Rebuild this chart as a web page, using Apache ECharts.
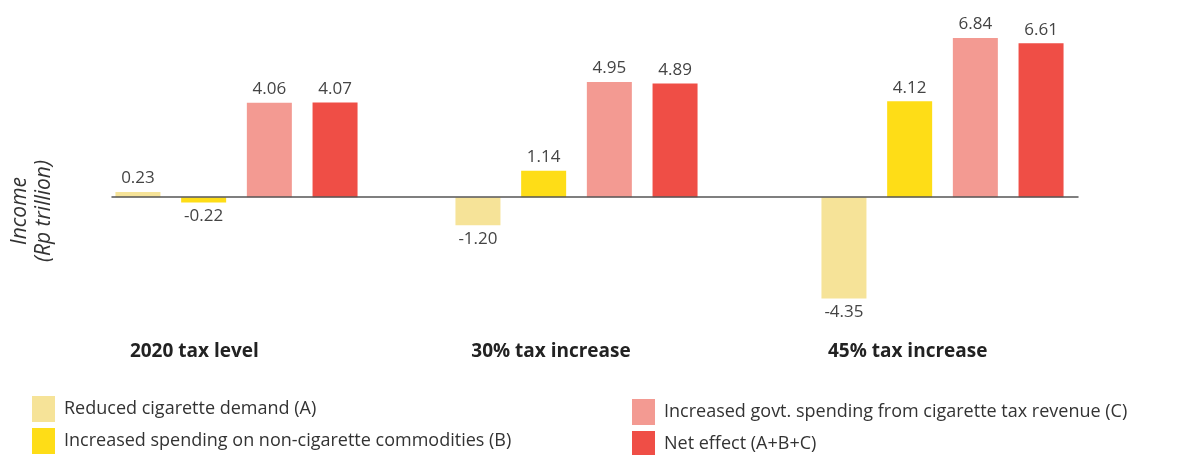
<!DOCTYPE html>
<html>
<head>
<meta charset="utf-8">
<title>Income effect of cigarette tax scenarios</title>
<script src="https://cdn.jsdelivr.net/npm/echarts@6/dist/echarts.min.js"></script>
<style>
  html, body { margin: 0; padding: 0; background: #ffffff; }
  #chart { width: 1199px; height: 455px; }
</style>
</head>
<body>
<div id="chart"></div>
<script>
// Scenarios and income effects (Rp trillion)
const categories = ['2020 tax level', '30% tax increase', '45% tax increase'];
const seriesNames = [
  'Reduced cigarette demand (A)',
  'Increased spending on non-cigarette commodities (B)',
  'Increased govt. spending from cigarette tax revenue (C)',
  'Net effect (A+B+C)'
];
const reducedDemand  = [0.23, -1.20, -4.35];
const nonCigSpending = [-0.22, 1.14, 4.12];
const govtSpending   = [4.06, 4.95, 6.84];
const netEffect      = [4.07, 4.89, 6.61];
const seriesValues = [reducedDemand, nonCigSpending, govtSpending, netEffect];
const seriesColors = ['#F6E398', '#FEDD17', '#F39A92', '#EF4E46'];

const FONT = "'Open Sans', 'Noto Sans', sans-serif";

// one grid per scenario so each bar group sits in its own band
const barGrids = [
  { left: 98,  width: 277, top: 11, height: 326 },
  { left: 400, width: 353, top: 11, height: 326 },
  { left: 800, width: 285, top: 11, height: 326 }
];

const grid = barGrids.slice();
// grid 3: carries the zero baseline and the y-axis title
grid.push({ left: 98, right: 121, top: 85, height: 252 });
// grid 4: carries the scenario labels
grid.push({ left: 16, right: 113, top: 300, height: 30 });

const xAxis = [];
const yAxis = [];
barGrids.forEach((g, i) => {
  xAxis.push({ type: 'category', gridIndex: i, data: [categories[i]], show: false });
  yAxis.push({ type: 'value', gridIndex: i, min: -6, max: 8, show: false });
});
xAxis.push({
  type: 'category', gridIndex: 3, data: [''], z: 5,
  axisLine: { show: true, onZero: true, lineStyle: { color: '#555', width: 1.5 } },
  axisTick: { show: false }, axisLabel: { show: false }, splitLine: { show: false }
});
yAxis.push({
  type: 'value', gridIndex: 3, min: -5, max: 4,
  axisLine: { show: false }, axisTick: { show: false }, axisLabel: { show: false },
  splitLine: { show: false },
  name: 'Income\n(Rp trillion)', nameLocation: 'middle', nameRotate: 90, nameGap: 56,
  nameTextStyle: { fontFamily: FONT, fontStyle: 'italic', fontSize: 21, lineHeight: 24, color: '#333' }
});
xAxis.push({
  type: 'category', gridIndex: 4, data: categories,
  axisLine: { show: false }, axisTick: { show: false }, splitLine: { show: false },
  axisLabel: { show: true, margin: 12, fontFamily: FONT, fontWeight: 'bold', fontSize: 19, color: '#222' }
});
yAxis.push({ type: 'value', gridIndex: 4, show: false });

const series = [];
barGrids.forEach((g, gi) => {
  seriesNames.forEach((name, si) => {
    const v = seriesValues[si][gi];
    series.push({
      type: 'bar',
      name: name,
      xAxisIndex: gi,
      yAxisIndex: gi,
      barWidth: 45,
      barGap: '46%',
      itemStyle: { color: seriesColors[si] },
      label: {
        show: true,
        position: 'top',
        distance: 5,
        fontFamily: FONT,
        fontSize: 17,
        color: '#444',
        formatter: p => p.value.toFixed(2)
      },
      data: [v < 0 ? { value: v, label: { position: 'bottom' } } : v]
    });
  });
});

// legend: two columns of two rows, one component per entry
const legendText = { fontFamily: FONT, fontSize: 18, color: '#333', padding: [6, 0, 0, 4] };
const legendSlots = [
  { left: 32,  top: 396 },
  { left: 32,  top: 428 },
  { left: 632, top: 399 },
  { left: 632, top: 431 }
];
const legend = seriesNames.map((name, i) => ({
  data: [name],
  left: legendSlots[i].left,
  top: legendSlots[i].top,
  padding: 0,
  itemWidth: 23,
  itemHeight: 26,
  icon: 'rect',
  textStyle: legendText
}));

const chart = echarts.init(document.getElementById('chart'), null, { renderer: 'canvas' });
chart.setOption({
  animation: false,
  backgroundColor: '#ffffff',
  grid: grid,
  xAxis: xAxis,
  yAxis: yAxis,
  legend: legend,
  series: series
});
</script>
</body>
</html>
